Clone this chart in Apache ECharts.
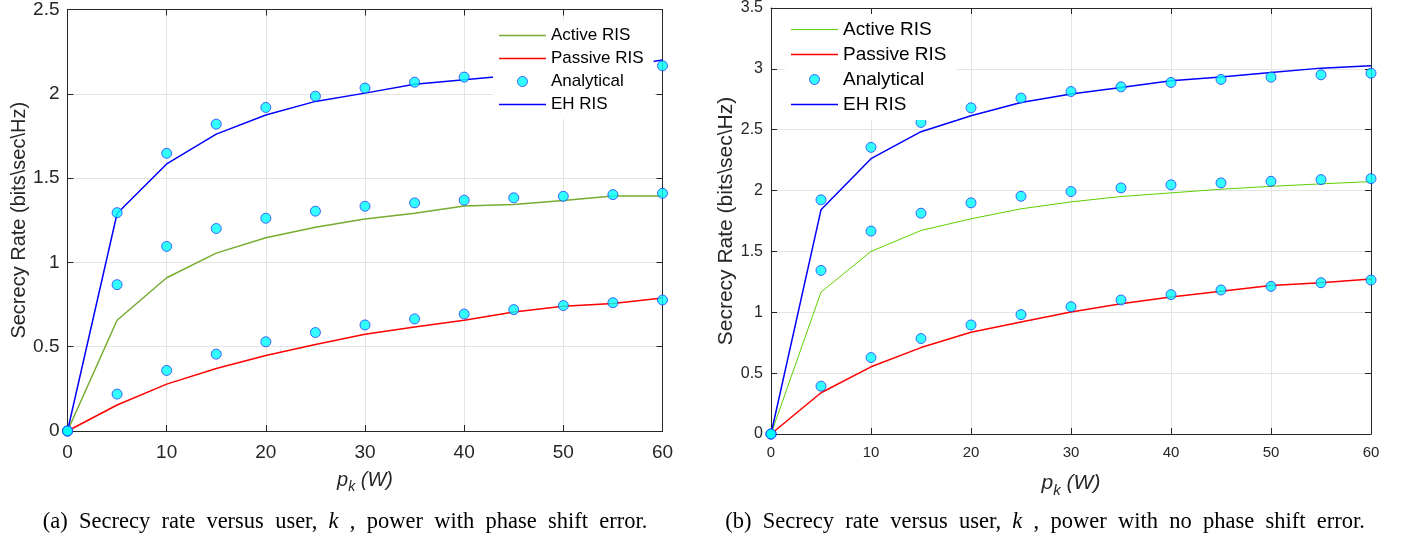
<!DOCTYPE html>
<html>
<head>
<meta charset="utf-8">
<script src="https://cdn.jsdelivr.net/npm/echarts@6/dist/echarts.min.js"></script>
<style>html,body{margin:0;padding:0;background:#fff;}#c{width:1409px;height:541px;}</style>
</head>
<body>
<div id="c"></div>
<script>
// x values (p_k in W)
const xVals = [0, 5, 10, 15, 20, 25, 30, 35, 40, 45, 50, 55, 60];
const xTicks = [0, 10, 20, 30, 40, 50, 60];
const yTicksA = [0, 0.5, 1, 1.5, 2, 2.5];
const yTicksB = [0, 0.5, 1, 1.5, 2, 2.5, 3, 3.5];

// (a) with phase shift error
const activeA     = [0, 0.657, 0.909, 1.055, 1.146, 1.209, 1.258, 1.292, 1.335, 1.343, 1.367, 1.394, 1.394];
const passiveA    = [0, 0.154, 0.278, 0.371, 0.448, 0.513, 0.574, 0.617, 0.657, 0.706, 0.740, 0.756, 0.789];
const ehA         = [0, 1.290, 1.584, 1.761, 1.874, 1.955, 2.004, 2.057, 2.083, 2.110, 2.135, 2.155, 2.200];
const anaActiveA  = [0, 0.868, 1.095, 1.201, 1.262, 1.304, 1.333, 1.353, 1.369, 1.383, 1.392, 1.402, 1.410];
const anaPassiveA = [0, 0.219, 0.359, 0.456, 0.529, 0.584, 0.629, 0.665, 0.694, 0.720, 0.744, 0.761, 0.777];
const anaEhA      = [0, 1.295, 1.647, 1.820, 1.919, 1.986, 2.034, 2.069, 2.099, 2.120, 2.140, 2.155, 2.166];

// (b) no phase shift error
const activeB     = [0, 1.166, 1.500, 1.672, 1.768, 1.850, 1.907, 1.951, 1.981, 2.011, 2.035, 2.055, 2.074];
const passiveB    = [0, 0.339, 0.552, 0.710, 0.836, 0.921, 1.003, 1.071, 1.126, 1.172, 1.221, 1.243, 1.273];
const ehB         = [0, 1.842, 2.262, 2.484, 2.615, 2.724, 2.793, 2.847, 2.902, 2.934, 2.970, 3.006, 3.025];
const anaActiveB  = [0, 1.344, 1.667, 1.814, 1.899, 1.953, 1.992, 2.022, 2.047, 2.063, 2.076, 2.090, 2.098];
const anaPassiveB = [0, 0.393, 0.628, 0.784, 0.896, 0.981, 1.046, 1.101, 1.145, 1.183, 1.213, 1.243, 1.265];
const anaEhB      = [0, 1.924, 2.355, 2.560, 2.680, 2.760, 2.814, 2.852, 2.888, 2.913, 2.932, 2.951, 2.964];

const seriesNames = ['Active RIS', 'Passive RIS', 'Analytical', 'EH RIS'];
const yTitle = 'Secrecy Rate (bits\\sec\\Hz)';
const captionA = '(a)  Secrecy  rate  versus  user,  {k|k}  ,  power  with  phase  shift  error.';
const captionB = '(b)  Secrecy  rate  versus  user,  {k|k}  ,  power  with  no  phase  shift  error.';

const AX = '#262626';
const GRIDC = '#e4e4e4';
const SANS = 'Liberation Sans, Arial, sans-serif';
const SERIF = 'Liberation Serif, Times New Roman, serif';

const pair = arr => arr.map((v, i) => [xVals[i], v]);

function axesFor(gi, yTicks, fsx, fsy, labMarginX, labMarginY, nameGapX, nameGapY, nameFs) {
  const ymax = yTicks[yTicks.length - 1];
  const xMin = xTicks[0], xMax = xTicks[xTicks.length - 1];
  const xa = [
    {
      type: 'value', gridIndex: gi, min: xMin, max: xMax, interval: 10, position: 'bottom',
      axisLine: {show: true, onZero: false, lineStyle: {color: AX, width: 1}},
      axisTick: {show: true, inside: true, length: 6, lineStyle: {color: AX}},
      axisLabel: {color: AX, fontSize: fsx, fontFamily: SANS, margin: labMarginX},
      splitLine: {show: true, lineStyle: {color: GRIDC, width: 1}},
      name: '{p|p}{s|k}{w| (W)}', nameLocation: 'middle', nameGap: nameGapX,
      nameTextStyle: {
        color: AX, fontFamily: SANS,
        rich: {
          p: {fontStyle: 'italic', fontSize: nameFs, color: AX, fontFamily: SANS},
          s: {fontStyle: 'italic', fontSize: Math.round(nameFs * 0.72), color: AX, fontFamily: SANS, padding: [14, 0, 0, 0]},
          w: {fontStyle: 'italic', fontSize: nameFs, color: AX, fontFamily: SANS}
        }
      }
    },
    {
      type: 'value', gridIndex: gi, min: xMin, max: xMax, interval: 10, position: 'top',
      axisLine: {show: true, onZero: false, lineStyle: {color: AX, width: 1}},
      axisTick: {show: true, inside: true, length: 6, lineStyle: {color: AX}},
      axisLabel: {show: false}, splitLine: {show: false}
    }
  ];
  const ya = [
    {
      type: 'value', gridIndex: gi, min: 0, max: ymax, interval: 0.5, position: 'left',
      axisLine: {show: true, onZero: false, lineStyle: {color: AX, width: 1}},
      axisTick: {show: true, inside: true, length: 6, lineStyle: {color: AX}},
      axisLabel: {color: AX, fontSize: fsy, fontFamily: SANS, margin: labMarginY, formatter: v => String(v)},
      splitLine: {show: true, lineStyle: {color: GRIDC, width: 1}},
      name: yTitle, nameLocation: 'middle', nameGap: nameGapY, nameRotate: 90,
      nameTextStyle: {color: AX, fontSize: nameFs, fontFamily: SANS}
    },
    {
      type: 'value', gridIndex: gi, min: 0, max: ymax, interval: 0.5, position: 'right',
      axisLine: {show: true, onZero: false, lineStyle: {color: AX, width: 1}},
      axisTick: {show: true, inside: true, length: 6, lineStyle: {color: AX}},
      axisLabel: {show: false}, splitLine: {show: false}
    }
  ];
  return {xa, ya};
}

const A = axesFor(0, yTicksA, 19, 19, 12, 8, 35, 36, 20);
const B = axesFor(1, yTicksB, 15, 16, 11, 8, 35, 30, 21);

const GREEN_A = '#77ac30', GREEN_B = '#5ed000', RED = '#ff0000', BLUE = '#0000ff';
const MK = {color: '#00ffff', borderColor: '#1f3fff', borderWidth: 1};

function lineS(name, data, color, width, xi, yi) {
  return {name, type: 'line', xAxisIndex: xi, yAxisIndex: yi, data: pair(data), symbol: 'none',
    lineStyle: {color, width}, itemStyle: {color}, z: 2, animation: false};
}
function markS(data, xi, yi) {
  return {name: 'Analytical', type: 'scatter', xAxisIndex: xi, yAxisIndex: yi, data: pair(data),
    symbol: 'circle', symbolSize: 10, itemStyle: MK, z: 3, animation: false};
}

function legendFor(left, top, fs, green, gw) {
  return {
    orient: 'vertical', left, top, padding: [6, 10, 6, 6], backgroundColor: '#ffffff',
    itemWidth: 47, itemHeight: 10, itemGap: 6, selectedMode: false,
    textStyle: {color: '#000', fontSize: fs, fontFamily: SANS},
    data: [
      {name: 'Active RIS', icon: 'path://M0,0H47V' + gw + 'H0Z', itemStyle: {color: green}},
      {name: 'Passive RIS', icon: 'path://M0,0H47V1.5H0Z', itemStyle: {color: RED}},
      {name: 'Analytical', icon: 'circle', itemStyle: MK},
      {name: 'EH RIS', icon: 'path://M0,0H47V1.5H0Z', itemStyle: {color: BLUE}}
    ],
    z: 10
  };
}

const capStyle = {fontFamily: SERIF, fontSize: 22.5, fontWeight: 'normal', color: '#000',
  rich: {k: {fontFamily: SERIF, fontSize: 22.5, fontStyle: 'italic', color: '#000'}}};

const option = {
  backgroundColor: '#ffffff',
  animation: false,
  grid: [
    {left: 67.5, top: 8.5, width: 595, height: 422.5, containLabel: false},
    {left: 771, top: 6.7, width: 600, height: 427.3, containLabel: false}
  ],
  xAxis: [...A.xa, ...B.xa.map(a => Object.assign(a, {gridIndex: 1}))],
  yAxis: [...A.ya, ...B.ya.map(a => Object.assign(a, {gridIndex: 1}))],
  legend: [legendFor(493, 21, 17, GREEN_A, 1.5), legendFor(785, 14, 19, GREEN_B, 1)],
  title: [
    {text: captionA, left: 345, top: 511, textAlign: 'center', padding: 0, textStyle: capStyle},
    {text: captionB, left: 1045, top: 511, textAlign: 'center', padding: 0, textStyle: capStyle}
  ],
  series: [
    lineS('Active RIS', activeA, GREEN_A, 1.5, 0, 0),
    lineS('Passive RIS', passiveA, RED, 1.5, 0, 0),
    lineS('EH RIS', ehA, BLUE, 1.5, 0, 0),
    markS(anaActiveA, 0, 0),
    markS(anaPassiveA, 0, 0),
    markS(anaEhA, 0, 0),
    lineS('Active RIS', activeB, GREEN_B, 1, 2, 2),
    lineS('Passive RIS', passiveB, RED, 1.5, 2, 2),
    lineS('EH RIS', ehB, BLUE, 1.5, 2, 2),
    markS(anaActiveB, 2, 2),
    markS(anaPassiveB, 2, 2),
    markS(anaEhB, 2, 2)
  ]
};

const chart = echarts.init(document.getElementById('c'), null, {renderer: 'canvas'});
chart.setOption(option);
</script>
</body>
</html>
